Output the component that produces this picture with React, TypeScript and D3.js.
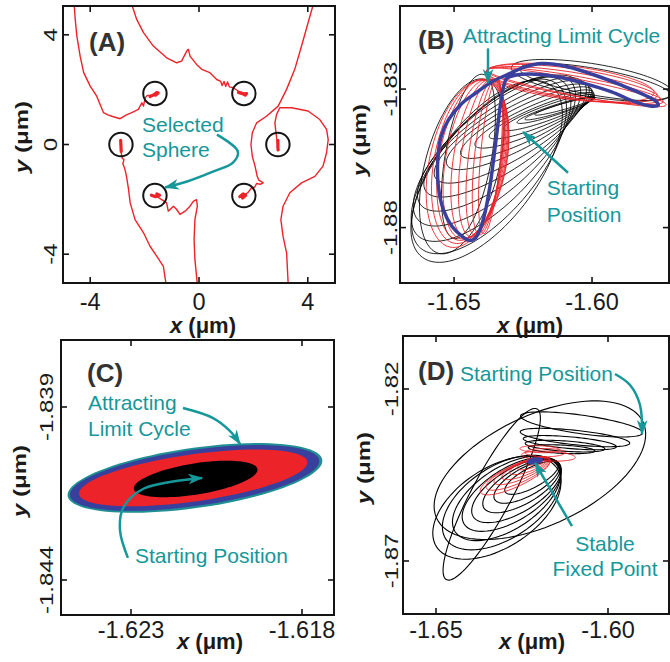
import React from "react";
import * as d3 from "d3";

type Pt = [number, number];
// ellipse loop: centre x, centre y, semi-axis a, semi-axis b, tilt in degrees
type Ell = [number, number, number, number, number];

const FONT = "'Liberation Sans', Arial, Helvetica, sans-serif";
const TEAL = "#16979a";
const RED = "#ec2329";
const BLUE = "#393f9d";
const INK = "#141414";

// ---------- (A) sphere array, positions in µm
const sphereX = [-1.62, 1.65, -2.87, 2.9, -1.62, 1.65];
const sphereY = [1.86, 1.86, 0, 0, -1.86, -1.86];
const sphereR = 0.43;

const trackA1: Pt[] = [[-4.59, 5.1], [-4.55, 4.56], [-4.49, 3.95], [-4.37, 3.22], [-4.24, 2.62], [-4.0, 2.13], [-3.76, 1.76], [-3.51, 1.16], [-3.35, 1.08], [-3.2, 1.03], [-2.9, 0.94], [-2.65, 1.09], [-2.47, 1.16], [-2.23, 1.28], [-2.1, 1.52], [-2.04, 1.4], [-1.98, 1.7], [-1.9, 1.79], [-1.72, 1.8], [-1.61, 1.85]];
const trackA2: Pt[] = [[-2.47, 5.1], [-2.29, 4.56], [-2.04, 4.08], [-1.68, 3.59], [-1.19, 3.16], [-0.82, 2.98], [-0.64, 3.04], [-0.48, 3.35], [-0.42, 3.45], [-0.39, 3.47], [-0.33, 3.22], [-0.09, 2.92], [0.1, 2.74], [0.4, 2.62], [0.65, 2.37], [0.8, 2.3], [0.85, 2.15], [0.92, 2.3], [0.98, 2.12], [1.05, 2.28], [1.12, 2.1], [1.26, 2.07], [1.44, 1.95], [1.65, 1.85]];
const trackA3: Pt[] = [[4.2, 5.1], [4.01, 4.44], [3.77, 3.59], [3.52, 2.74], [3.22, 2.01], [2.91, 1.4], [2.48, 1.03], [2.12, 0.79], [1.96, 0.43], [1.91, 0.0], [1.96, -0.43], [2.06, -0.79], [2.14, -1.16], [2.2, -1.3], [2.36, -1.4], [2.25, -1.45], [2.12, -1.42], [2.05, -1.55], [1.93, -1.58], [1.81, -1.74], [1.65, -1.86]];
const trackA4: Pt[] = [[2.89, 0], [2.86, 0.2], [2.83, 0.43], [2.79, 0.79], [2.85, 1.09], [2.97, 1.34], [3.4, 1.34], [4.01, 1.22], [4.44, 0.91], [4.69, 0.55], [4.75, 0.18], [4.69, -0.3], [4.56, -0.79], [4.26, -1.16], [3.77, -1.4], [3.34, -1.76], [3.09, -2.25], [3.01, -2.74], [3.09, -3.35], [3.22, -3.95], [3.28, -5.1]];
const trackA5: Pt[] = [[-2.87, 0], [-2.86, -0.3], [-2.82, -0.5], [-2.76, -0.55], [-2.8, -0.7], [-2.74, -0.85], [-2.7, -1.0], [-2.66, -1.2], [-2.59, -1.64], [-2.53, -2.13], [-2.35, -2.74], [-2.04, -3.22], [-1.8, -3.71], [-1.55, -4.08], [-1.31, -4.44], [-1.21, -5.1]];
const trackA6: Pt[] = [[-1.61, -1.86], [-1.37, -2.01], [-1.19, -2.13], [-1.13, -2.43], [-0.94, -2.25], [-0.82, -2.37], [-0.7, -2.55], [-0.51, -2.43], [-0.33, -2.25], [-0.21, -2.07], [-0.09, -2.01], [-0.06, -2.25], [-0.15, -2.74], [-0.18, -3.47], [-0.15, -4.2], [-0.06, -5.1]];
const tracksA = [trackA1, trackA2, trackA3, trackA4, trackA5, trackA6];

// jitter of each trapped sphere inside its trap
const blobsA: Pt[][] = [
  [[-1.8, 1.75], [-1.65, 1.82], [-1.55, 1.9], [-1.5, 1.88], [-1.6, 1.8]],
  [[1.45, 1.9], [1.6, 1.85], [1.75, 1.86], [1.7, 1.8], [1.55, 1.88]],
  [[-2.88, 0.15], [-2.87, -0.05], [-2.86, -0.25]],
  [[2.9, 0.15], [2.9, -0.1], [2.91, -0.2]],
  [[-1.75, -1.85], [-1.6, -1.9], [-1.45, -1.85], [-1.55, -1.8]],
  [[1.5, -1.9], [1.62, -1.8], [1.72, -1.85], [1.6, -1.95]],
];

// ---------- (B) approach to the limit cycle, µm
const loopsBBlack: Ell[] = [
  [-1.6098, -1.8361, 0.0114, 0.0011, 16], [-1.6116, -1.837, 0.0133, 0.0014, 17],
  [-1.6134, -1.8376, 0.0145, 0.0018, 18], [-1.6158, -1.8385, 0.0175, 0.0027, 20],
  [-1.6182, -1.8396, 0.0205, 0.0036, 22], [-1.6209, -1.8408, 0.0235, 0.0048, 24],
  [-1.6237, -1.8421, 0.0265, 0.0063, 26], [-1.6265, -1.8436, 0.0295, 0.0078, 28],
  [-1.6291, -1.8454, 0.0323, 0.0096, 31], [-1.6315, -1.8474, 0.0347, 0.0114, 34],
  [-1.6337, -1.8495, 0.0361, 0.0133, 38], [-1.6354, -1.8522, 0.0373, 0.0147, 42],
  [-1.6366, -1.8553, 0.0383, 0.0159, 46], [-1.6373, -1.8579, 0.0386, 0.0171, 50],
  [-1.6382, -1.8597, 0.0388, 0.0181, 53],
  [-1.5989, -1.8274, 0.0277, 0.0048, -10], [-1.6001, -1.8268, 0.0295, 0.006, -9],
  [-1.6448, -1.8543, 0.0301, 0.0084, 80], [-1.6472, -1.8579, 0.0325, 0.0133, 75],
];
const loopsBRed: Ell[] = [
  [-1.6434, -1.8555, 0.0295, 0.012, 80], [-1.6424, -1.8553, 0.0292, 0.0106, 80],
  [-1.6412, -1.8551, 0.0289, 0.009, 81], [-1.64, -1.8549, 0.0287, 0.0075, 82],
  [-1.6388, -1.8548, 0.0284, 0.006, 83], [-1.6378, -1.8546, 0.0282, 0.0048, 84],
  [-1.6368, -1.8543, 0.028, 0.0036, 85], [-1.6442, -1.8561, 0.0301, 0.013, 79],
  [-1.6451, -1.857, 0.0307, 0.0139, 78],
  [-1.6068, -1.8286, 0.0319, 0.0046, -9], [-1.6062, -1.8289, 0.0325, 0.0036, -10],
  [-1.6074, -1.828, 0.0313, 0.0054, -8], [-1.6056, -1.8294, 0.0331, 0.003, -11],
  [-1.608, -1.8277, 0.0307, 0.006, -7],
];
const cycleB: Pt[] = [
  [-1.6364, -1.8274], [-1.6303, -1.8246], [-1.6243, -1.822], [-1.6182, -1.8208], [-1.6086, -1.822],
  [-1.5989, -1.825], [-1.5893, -1.8286], [-1.5808, -1.8322], [-1.5766, -1.8346], [-1.576, -1.8358],
  [-1.579, -1.8361], [-1.5844, -1.8346], [-1.5929, -1.831], [-1.6025, -1.828], [-1.6122, -1.8256],
  [-1.6207, -1.8246], [-1.6279, -1.825], [-1.6309, -1.8262], [-1.6321, -1.8292], [-1.6333, -1.8364],
  [-1.6345, -1.8459], [-1.6357, -1.8555], [-1.637, -1.8651], [-1.6388, -1.8747], [-1.6406, -1.8807],
  [-1.6426, -1.8841], [-1.6448, -1.8846], [-1.6472, -1.8831], [-1.6508, -1.8795], [-1.6539, -1.8735],
  [-1.6557, -1.8651], [-1.6559, -1.8555], [-1.6547, -1.8471], [-1.6521, -1.8412], [-1.6472, -1.8352],
  [-1.6424, -1.8316],
];

// ---------- (C) close-up of the cycle band, µm (outer ring to inner core)
const bandsC: Ell[] = [
  [-1.62113, -1.84105, 0.00376, 0.00087, 8],
  [-1.62114, -1.84105, 0.00368, 0.00081, 8],
  [-1.62118, -1.84105, 0.00337, 0.00068, 8],
  [-1.62111, -1.84108, 0.00183, 0.00045, 9],
];
const bandColorsC = ["#1f8f93", BLUE, RED, "#000"];

// ---------- (D) decay to the stable fixed point, µm
const loopsDBlack: Ell[] = [
  [-1.6222, -1.8458, 0.0087, 0.0029, 28], [-1.6236, -1.8469, 0.0107, 0.0041, 29],
  [-1.6251, -1.8482, 0.0127, 0.0052, 30], [-1.6266, -1.8495, 0.0147, 0.0064, 31],
  [-1.628, -1.8506, 0.0163, 0.0076, 32], [-1.6295, -1.8518, 0.0178, 0.009, 33],
  [-1.6309, -1.853, 0.0194, 0.0105, 33], [-1.6323, -1.8545, 0.0209, 0.0116, 33],
  [-1.6198, -1.8436, 0.0331, 0.016, 25], [-1.6338, -1.8506, 0.0281, 0.0058, 62],
  [-1.6077, -1.8303, 0.0179, 0.0027, -8], [-1.6096, -1.8341, 0.016, 0.0021, -6],
  [-1.6111, -1.8356, 0.0136, 0.0017, -5], [-1.6125, -1.8366, 0.0116, 0.0015, -4],
  [-1.6135, -1.8375, 0.0097, 0.0012, -3],
];
const loopsDRed: Ell[] = [
  [-1.6212, -1.8411, 0.0029, 0.0008, 15], [-1.6222, -1.8417, 0.0044, 0.0012, 18],
  [-1.6232, -1.8424, 0.0058, 0.0016, 20], [-1.6241, -1.8431, 0.0073, 0.0019, 22],
  [-1.6251, -1.8438, 0.0087, 0.0023, 23], [-1.6261, -1.8446, 0.0102, 0.0027, 24],
  [-1.627, -1.8453, 0.0111, 0.0031, 25],
  [-1.6173, -1.8395, 0.0078, 0.0014, -3], [-1.6183, -1.8385, 0.0058, 0.0012, 0],
  [-1.6198, -1.8375, 0.0058, 0.001, -2],
];
const fixedD: Ell = [-1.6212, -1.8409, 0.0024, 0.001, 10];

// ---------- annotation arrows, in each panel's µm
const arrowA: Pt[] = [[0.66, 0.36], [1.43, -0.26], [1.25, -0.66], [0.51, -0.99], [-0.44, -1.35], [-1.25, -1.57]];
const arrowBCycle: Pt[] = [[-1.6377, -1.8153], [-1.6377, -1.8278]];
const arrowBStart: Pt[] = [[-1.6087, -1.8602], [-1.625, -1.8455]];
const arrowCCycle: Pt[] = [[-1.62148, -1.83903], [-1.6206, -1.83932], [-1.62011, -1.83969], [-1.61981, -1.84007]];
const arrowCStart: Pt[] = [[-1.62309, -1.84336], [-1.62332, -1.84258], [-1.62323, -1.84192], [-1.62265, -1.84137], [-1.62092, -1.84105]];
const arrowDStart: Pt[] = [[-1.59797, -1.81564], [-1.5936, -1.81884], [-1.5907, -1.82465], [-1.59012, -1.83308]];
const arrowDFixed: Pt[] = [[-1.61047, -1.85983], [-1.62122, -1.84151]];

// ---------- ticks
const ticksA = [-4, 0, 4];
const tickTextA = ["-4", "0", "4"];
const ticksBx = [-1.65, -1.6];
const tickTextBx = ["-1.65", "-1.60"];
const ticksBy = [-1.83, -1.88];
const tickTextBy = ["-1.83", "-1.88"];
const ticksCx = [-1.623, -1.618];
const tickTextCx = ["-1.623", "-1.618"];
const ticksCy = [-1.839, -1.844];
const tickTextCy = ["-1.839", "-1.844"];
const ticksDx = [-1.65, -1.6];
const tickTextDx = ["-1.65", "-1.60"];
const ticksDy = [-1.82, -1.87];
const tickTextDy = ["-1.82", "-1.87"];

type Scale = d3.ScaleLinear<number, number>;

function ellipsePts(e: Ell): Pt[] {
  const th = (e[4] * Math.PI) / 180;
  return d3.range(0, 360, 4).map((deg) => {
    const t = (deg * Math.PI) / 180;
    const u = e[2] * Math.cos(t);
    const v = e[3] * Math.sin(t);
    return [e[0] + u * Math.cos(th) - v * Math.sin(th), e[1] + u * Math.sin(th) + v * Math.cos(th)] as Pt;
  });
}

function pathOf(sx: Scale, sy: Scale, pts: Pt[], curve: d3.CurveFactory) {
  return d3.line<Pt>().x((d) => sx(d[0])).y((d) => sy(d[1])).curve(curve)(pts) || "";
}

function Loops({ sx, sy, loops, color, width }: { sx: Scale; sy: Scale; loops: Ell[]; color: string; width: number }) {
  return (
    <g fill="none" stroke={color} strokeWidth={width}>
      {loops.map((e, i) => (
        <path key={i} d={pathOf(sx, sy, ellipsePts(e), d3.curveLinearClosed)} />
      ))}
    </g>
  );
}

function Arrow({ sx, sy, pts }: { sx: Scale; sy: Scale; pts: Pt[] }) {
  return <path d={pathOf(sx, sy, pts, d3.curveCatmullRom)} fill="none" stroke={TEAL} strokeWidth={2.5} markerEnd="url(#head)" />;
}

function Note({ x, y, text, anchor = "start" }: { x: number; y: number; text: string; anchor?: string }) {
  return (
    <text x={x} y={y} fill={TEAL} fontSize={21} textAnchor={anchor as any}>
      {text}
    </text>
  );
}

type AxesProps = {
  id: string; sx: Scale; sy: Scale;
  xTicks: number[]; xText: string[]; yTicks: number[]; yText: string[];
  xTextY: number; yTextX: number; xLabel: Pt; yLabel: Pt;
  tag: string; tagPos: Pt; children?: React.ReactNode;
};

function Axes(p: AxesProps) {
  const [x0, x1] = p.sx.range();
  const [yb, yt] = p.sy.range();
  const tl = 6;
  return (
    <g>
      <clipPath id={p.id}>
        <rect x={x0} y={yt} width={x1 - x0} height={yb - yt} />
      </clipPath>
      <g clipPath={`url(#${p.id})`}>{p.children}</g>
      <g stroke={INK} strokeWidth={1.6}>
        {p.xTicks.map((t) => (
          <g key={"x" + t}>
            <line x1={p.sx(t)} x2={p.sx(t)} y1={yb} y2={yb - tl} />
            <line x1={p.sx(t)} x2={p.sx(t)} y1={yt} y2={yt + tl} />
          </g>
        ))}
        {p.yTicks.map((t) => (
          <g key={"y" + t}>
            <line x1={x0} x2={x0 + tl} y1={p.sy(t)} y2={p.sy(t)} />
            <line x1={x1} x2={x1 - tl} y1={p.sy(t)} y2={p.sy(t)} />
          </g>
        ))}
      </g>
      <rect x={x0} y={yt} width={x1 - x0} height={yb - yt} fill="none" stroke={INK} strokeWidth={2} />
      {p.xTicks.map((t, i) => (
        <text key={"xt" + t} x={p.sx(t)} y={p.xTextY} textAnchor="middle" fontSize={23.5} fill="#1a1a1a">
          {p.xText[i]}
        </text>
      ))}
      {p.yTicks.map((t, i) => (
        <text key={"yt" + t} transform={`translate(${p.yTextX},${p.sy(t)}) rotate(-90) scale(1,0.75)`} textAnchor="middle" fontSize={24} fill="#1a1a1a">
          {p.yText[i]}
        </text>
      ))}
      <text x={p.xLabel[0]} y={p.xLabel[1]} textAnchor="middle" fontSize={22} fontWeight="bold" fill="#1a1a1a">
        <tspan fontStyle="italic">x</tspan> (μm)
      </text>
      <text transform={`translate(${p.yLabel[0]},${p.yLabel[1]}) rotate(-90) scale(1,0.75)`} textAnchor="middle" fontSize={24} fontWeight="bold" fill="#1a1a1a">
        <tspan fontStyle="italic">y</tspan> (μm)
      </text>
      <text x={p.tagPos[0]} y={p.tagPos[1]} fontSize={26} fontWeight="bold" fill="#333">
        {p.tag}
      </text>
    </g>
  );
}

export default function App() {
  const xA = d3.scaleLinear().domain([-5, 5]).range([63, 335]);
  const yA = d3.scaleLinear().domain([-5.05, 5.05]).range([283, 6]);
  const xB = d3.scaleLinear().domain([-1.6696, -1.5721]).range([400, 669]);
  const yB = d3.scaleLinear().domain([-1.9, -1.8]).range([283, 6]);
  const xC = d3.scaleLinear().domain([-1.625047, -1.617064]).range([61, 334]);
  const yC = d3.scaleLinear().domain([-1.845012, -1.837064]).range([615, 340]);
  const xD = d3.scaleLinear().domain([-1.65959, -1.58227]).range([403, 669]);
  const yD = d3.scaleLinear().domain([-1.88541, -1.80459]).range([614, 336]);

  return (
    <svg width={670} height={662} style={{ position: "absolute", left: 0, top: 0, background: "#fff" }} fontFamily={FONT}>
      <defs>
        <marker id="head" viewBox="0 0 14 10" refX={13} refY={5} markerWidth={15} markerHeight={11} markerUnits="userSpaceOnUse" orient="auto">
          <path d="M0,0 L14,5 L0,10 L4,5 Z" fill={TEAL} />
        </marker>
      </defs>

      {/* (A) */}
      <Axes id="clipA" sx={xA} sy={yA} xTicks={ticksA} xText={tickTextA} yTicks={ticksA} yText={tickTextA}
        xTextY={310} yTextX={57} xLabel={[203, 333]} yLabel={[28, 137]} tag="(A)" tagPos={[89, 51]}>
        <g fill="none" stroke={RED} strokeWidth={1.4} strokeLinejoin="round">
          {tracksA.map((t, i) => (
            <path key={i} d={pathOf(xA, yA, t, d3.curveLinear)} />
          ))}
        </g>
        <g fill="none" stroke={RED} strokeWidth={3.2} strokeLinejoin="round" strokeLinecap="round">
          {blobsA.map((t, i) => (
            <path key={i} d={pathOf(xA, yA, t, d3.curveLinear)} />
          ))}
        </g>
        {sphereX.map((x, i) => (
          <ellipse key={i} cx={xA(x)} cy={yA(sphereY[i])} rx={xA(sphereR) - xA(0)} ry={yA(0) - yA(sphereR)} fill="none" stroke={INK} strokeWidth={2} />
        ))}
      </Axes>
      <Note x={142} y={132} text="Selected" />
      <Note x={142} y={157} text="Sphere" />
      <Arrow sx={xA} sy={yA} pts={arrowA} />

      {/* (B) */}
      <Axes id="clipB" sx={xB} sy={yB} xTicks={ticksBx} xText={tickTextBx} yTicks={ticksBy} yText={tickTextBy}
        xTextY={310} yTextX={397} xLabel={[530, 333]} yLabel={[366, 140]} tag="(B)" tagPos={[418, 49]}>
        <Loops sx={xB} sy={yB} loops={loopsBBlack} color="#000" width={0.85} />
        <Loops sx={xB} sy={yB} loops={loopsBRed} color={RED} width={0.9} />
        <path d={pathOf(xB, yB, cycleB, d3.curveCatmullRomClosed)} fill="none" stroke={BLUE} strokeWidth={3.5} />
      </Axes>
      <Note x={463} y={43} text="Attracting Limit Cycle" />
      <Arrow sx={xB} sy={yB} pts={arrowBCycle} />
      <Note x={583} y={195} text="Starting" anchor="middle" />
      <Note x={584} y={222} text="Position" anchor="middle" />
      <Arrow sx={xB} sy={yB} pts={arrowBStart} />

      {/* (C) */}
      <Axes id="clipC" sx={xC} sy={yC} xTicks={ticksCx} xText={tickTextCx} yTicks={ticksCy} yText={tickTextCy}
        xTextY={638} yTextX={53} xLabel={[210, 649]} yLabel={[26, 481]} tag="(C)" tagPos={[87, 382]}>
        {bandsC.map((e, i) => (
          <path key={i} d={pathOf(xC, yC, ellipsePts(e), d3.curveLinearClosed)} fill={bandColorsC[i]} stroke="none" />
        ))}
      </Axes>
      <Note x={88} y={410} text="Attracting" />
      <Note x={88} y={436} text="Limit Cycle" />
      <Arrow sx={xC} sy={yC} pts={arrowCCycle} />
      <Note x={135} y={563} text="Starting Position" />
      <Arrow sx={xC} sy={yC} pts={arrowCStart} />

      {/* (D) */}
      <Axes id="clipD" sx={xD} sy={yD} xTicks={ticksDx} xText={tickTextDx} yTicks={ticksDy} yText={tickTextDy}
        xTextY={638} yTextX={398} xLabel={[532, 649]} yLabel={[370, 468]} tag="(D)" tagPos={[418, 380]}>
        <Loops sx={xD} sy={yD} loops={loopsDBlack} color="#000" width={1.1} />
        <Loops sx={xD} sy={yD} loops={loopsDRed} color={RED} width={0.9} />
        <path d={pathOf(xD, yD, ellipsePts(fixedD), d3.curveLinearClosed)} fill={BLUE} stroke="none" />
      </Axes>
      <Note x={460} y={381} text="Starting Position" />
      <Arrow sx={xD} sy={yD} pts={arrowDStart} />
      <Note x={605} y={551} text="Stable" anchor="middle" />
      <Note x={605} y={576} text="Fixed Point" anchor="middle" />
      <Arrow sx={xD} sy={yD} pts={arrowDFixed} />
    </svg>
  );
}
